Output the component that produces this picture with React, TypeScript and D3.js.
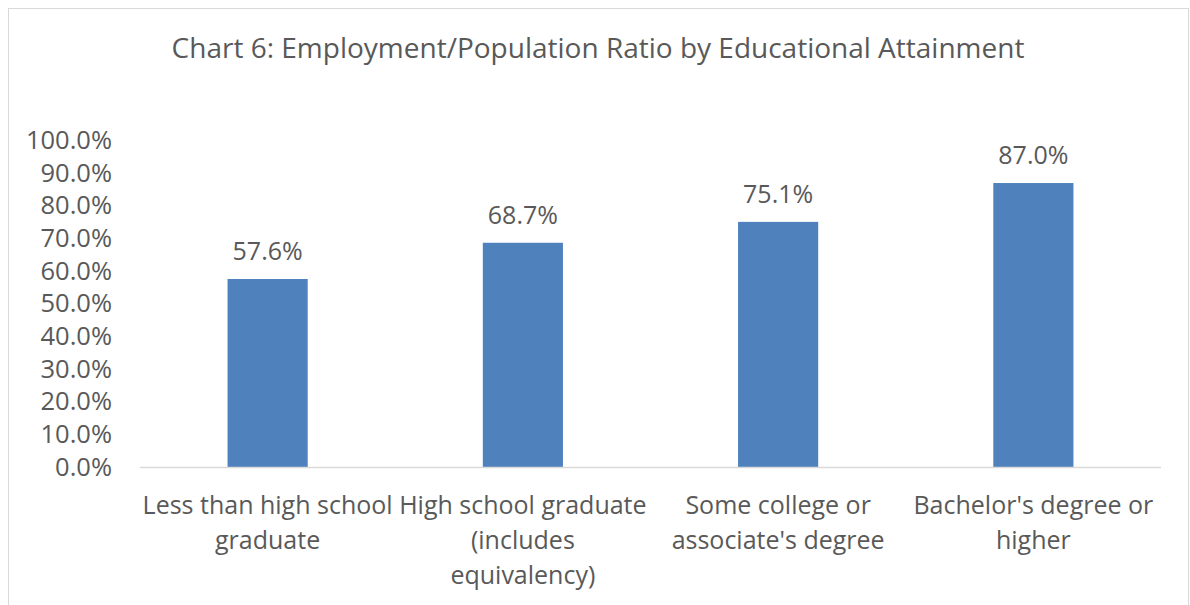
import React from "react";
import * as d3 from "d3";

const title = "Chart 6: Employment/Population Ratio by Educational Attainment";
const categories = [
  ["Less than high school", "graduate"],
  ["High school graduate", "(includes", "equivalency)"],
  ["Some college or", "associate's degree"],
  ["Bachelor's degree or", "higher"],
];
const values = [0.576, 0.687, 0.751, 0.87];
const yTicks = [0, 0.1, 0.2, 0.3, 0.4, 0.5, 0.6, 0.7, 0.8, 0.9, 1.0];

const W = 1190;
const H = 605;
const FONT = "'Open Sans', sans-serif";
const TEXT = "#595959";

export default function App() {
  const x = d3
    .scaleBand<number>()
    .domain(values.map((_, i) => i))
    .range([140, 1161])
    .paddingInner(0.686)
    .paddingOuter(0.343);
  const y = d3.scaleLinear().domain([0, 1]).range([467, 140.6]);
  const fmt = d3.format(".1%");
  return (
    <svg
      width={W}
      height={H}
      style={{ position: "absolute", left: 0, top: 0, background: "#fff" }}
    >
      <rect x={8.5} y={8.5} width={1180} height={620} fill="#fff" stroke="#d9d9d9" />
      <text x={598} y={58} textAnchor="middle" fontFamily={FONT} fontSize={28} fill={TEXT}>
        {title}
      </text>
      {yTicks.map((t) => (
        <text
          key={t}
          x={112}
          y={y(t) + 8.5}
          textAnchor="end"
          fontFamily={FONT}
          fontSize={25.5}
          fill={TEXT}
        >
          {fmt(t)}
        </text>
      ))}
      {values.map((v, i) => (
        <g key={i}>
          <rect
            x={x(i)}
            y={y(v)}
            width={x.bandwidth()}
            height={y(0) - y(v)}
            fill="#4F81BD"
          />
          <text
            x={(x(i) as number) + x.bandwidth() / 2}
            y={y(v) - 19}
            textAnchor="middle"
            fontFamily={FONT}
            fontSize={25}
            fill={TEXT}
          >
            {fmt(v)}
          </text>
        </g>
      ))}
      <line x1={140} x2={1161} y1={467.5} y2={467.5} stroke="#d9d9d9" strokeWidth={1.5} />
      {categories.map((lines, i) => (
        <text
          key={i}
          x={(x(i) as number) + x.bandwidth() / 2}
          textAnchor="middle"
          fontFamily={FONT}
          fontSize={25}
          fill={TEXT}
        >
          {lines.map((l, j) => (
            <tspan key={j} x={(x(i) as number) + x.bandwidth() / 2} y={514 + j * 35}>
              {l}
            </tspan>
          ))}
        </text>
      ))}
    </svg>
  );
}
